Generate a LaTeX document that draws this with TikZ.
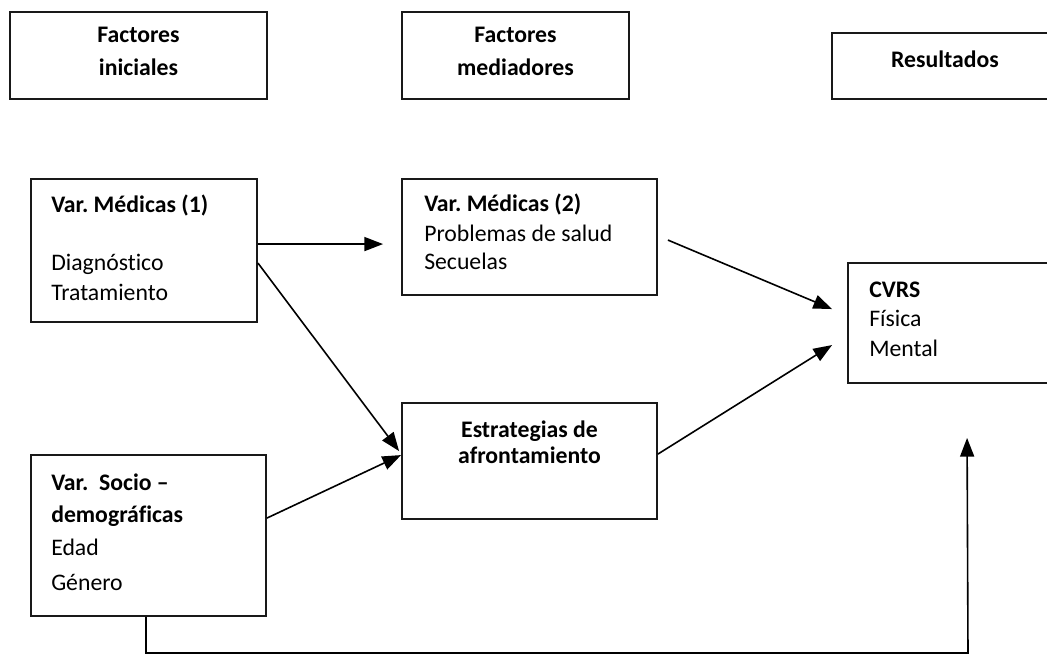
\documentclass[tikz,border=0pt]{standalone}
\usepackage{fontspec}
\setmainfont{Carlito}[Ligatures=NoCommon]
\frenchspacing
\usetikzlibrary{arrows.meta,calc}

\begin{document}
\begin{tikzpicture}[x=0.75pt,y=-0.75pt,
  box/.style={draw=black!90,line width=1.4pt,inner sep=0pt,rectangle},
  txt/.style={inner sep=0pt,font=\fontsize{17.8}{21}\selectfont},
  hd/.style={txt,font=\fontsize{17.8}{21}\selectfont\bfseries},
  arr/.style={line width=1.2pt,-{Triangle[length=14pt,width=10.5pt]}}]
\useasboundingbox (0,0) rectangle (1047,663);
\clip (0,0) rectangle (1047,663);

% column headings
\node[box,minimum width=192.75pt,minimum height=65.25pt] (fi) at (138.5,55.5) {};
\node[box,minimum width=170.25pt,minimum height=65.25pt] (fm) at (515.5,55.5) {};
\node[box,minimum width=169.5pt,minimum height=49.5pt] (res) at (945,66) {};
\node[hd,anchor=base] (fi1) at (138.5,43) {Factores};
\node[hd,anchor=base] (fi2) at (138.5,76) {iniciales};
\node[hd,anchor=base] (fm1) at (515.5,43) {Factores};
\node[hd,anchor=base] (fm2) at (515.5,76) {mediadores};
\node[hd,anchor=base] (res1) at (945,68) {Resultados};

% variable boxes
\node[box,minimum width=169.5pt,minimum height=107.25pt] (vm1) at (144,250.5) {};
\node[box,minimum width=191.25pt,minimum height=87pt] (vm2) at (529.5,237) {};
\node[box,minimum width=191.25pt,minimum height=87pt] (est) at (529.5,461) {};
\node[box,minimum width=176.25pt,minimum height=120.75pt] (soc) at (148.5,535.5) {};
\node[box,minimum width=157.5pt,minimum height=90pt] (cv) at (953,323) {};

% box contents
\node[hd,anchor=base west] (vm1a) at (51,213) {Var. Médicas (1)};
\node[txt,anchor=base west] (vm1b) at (51,271) {Diagnóstico};
\node[txt,anchor=base west] (vm1c) at (51,300.5) {Tratamiento};

\node[hd,anchor=base west] (vm2a) at (424,212) {Var. Médicas (2)};
\node[txt,anchor=base west] (vm2b) at (424,242) {Problemas de salud};
\node[txt,anchor=base west] (vm2c) at (424,270) {Secuelas};

\node[hd,anchor=base] (esta) at (529.5,437) {Estrategias de};
\node[hd,anchor=base] (estb) at (529.5,463) {afrontamiento};

\node[hd,anchor=base west] (soca) at (51,490) {Var.\ \ Socio –};
\node[hd,anchor=base west] (socb) at (51,522) {demográficas};
\node[txt,anchor=base west] (socc) at (51,555) {Edad};
\node[txt,anchor=base west] (socd) at (51,590) {Género};

\node[hd,anchor=base west] (cva) at (869,297) {CVRS};
\node[txt,anchor=base west] (cvb) at (869,326) {Física};
\node[txt,anchor=base west] (cvc) at (869,356) {Mental};

% connectors
\draw[arr] ($(vm1.north east)+(0,66)$) -- ($(vm2.north west)+(-18,66)$);
\draw[arr] ($(vm1.north east)+(0,85)$) -- ($(est.north west)+(-2,49)$);
\draw[arr] ($(soc.north east)+(0,64)$) -- ($(est.north west)+(0,53)$);
\draw[arr] ($(vm2.north east)+(10,62)$) -- ($(cv.north west)+(-15,47)$);
\draw[arr] ($(est.north east)+(0,52)$) -- ($(cv.north west)+(-15,83)$);
\coordinate (tip) at ($(cv.south west)+(120,54)$);
\coordinate (low) at (968,653);
\draw[arr] ($(soc.south)+(-2.5,0)$) |- (low) -- (tip);
\end{tikzpicture}
\end{document}
